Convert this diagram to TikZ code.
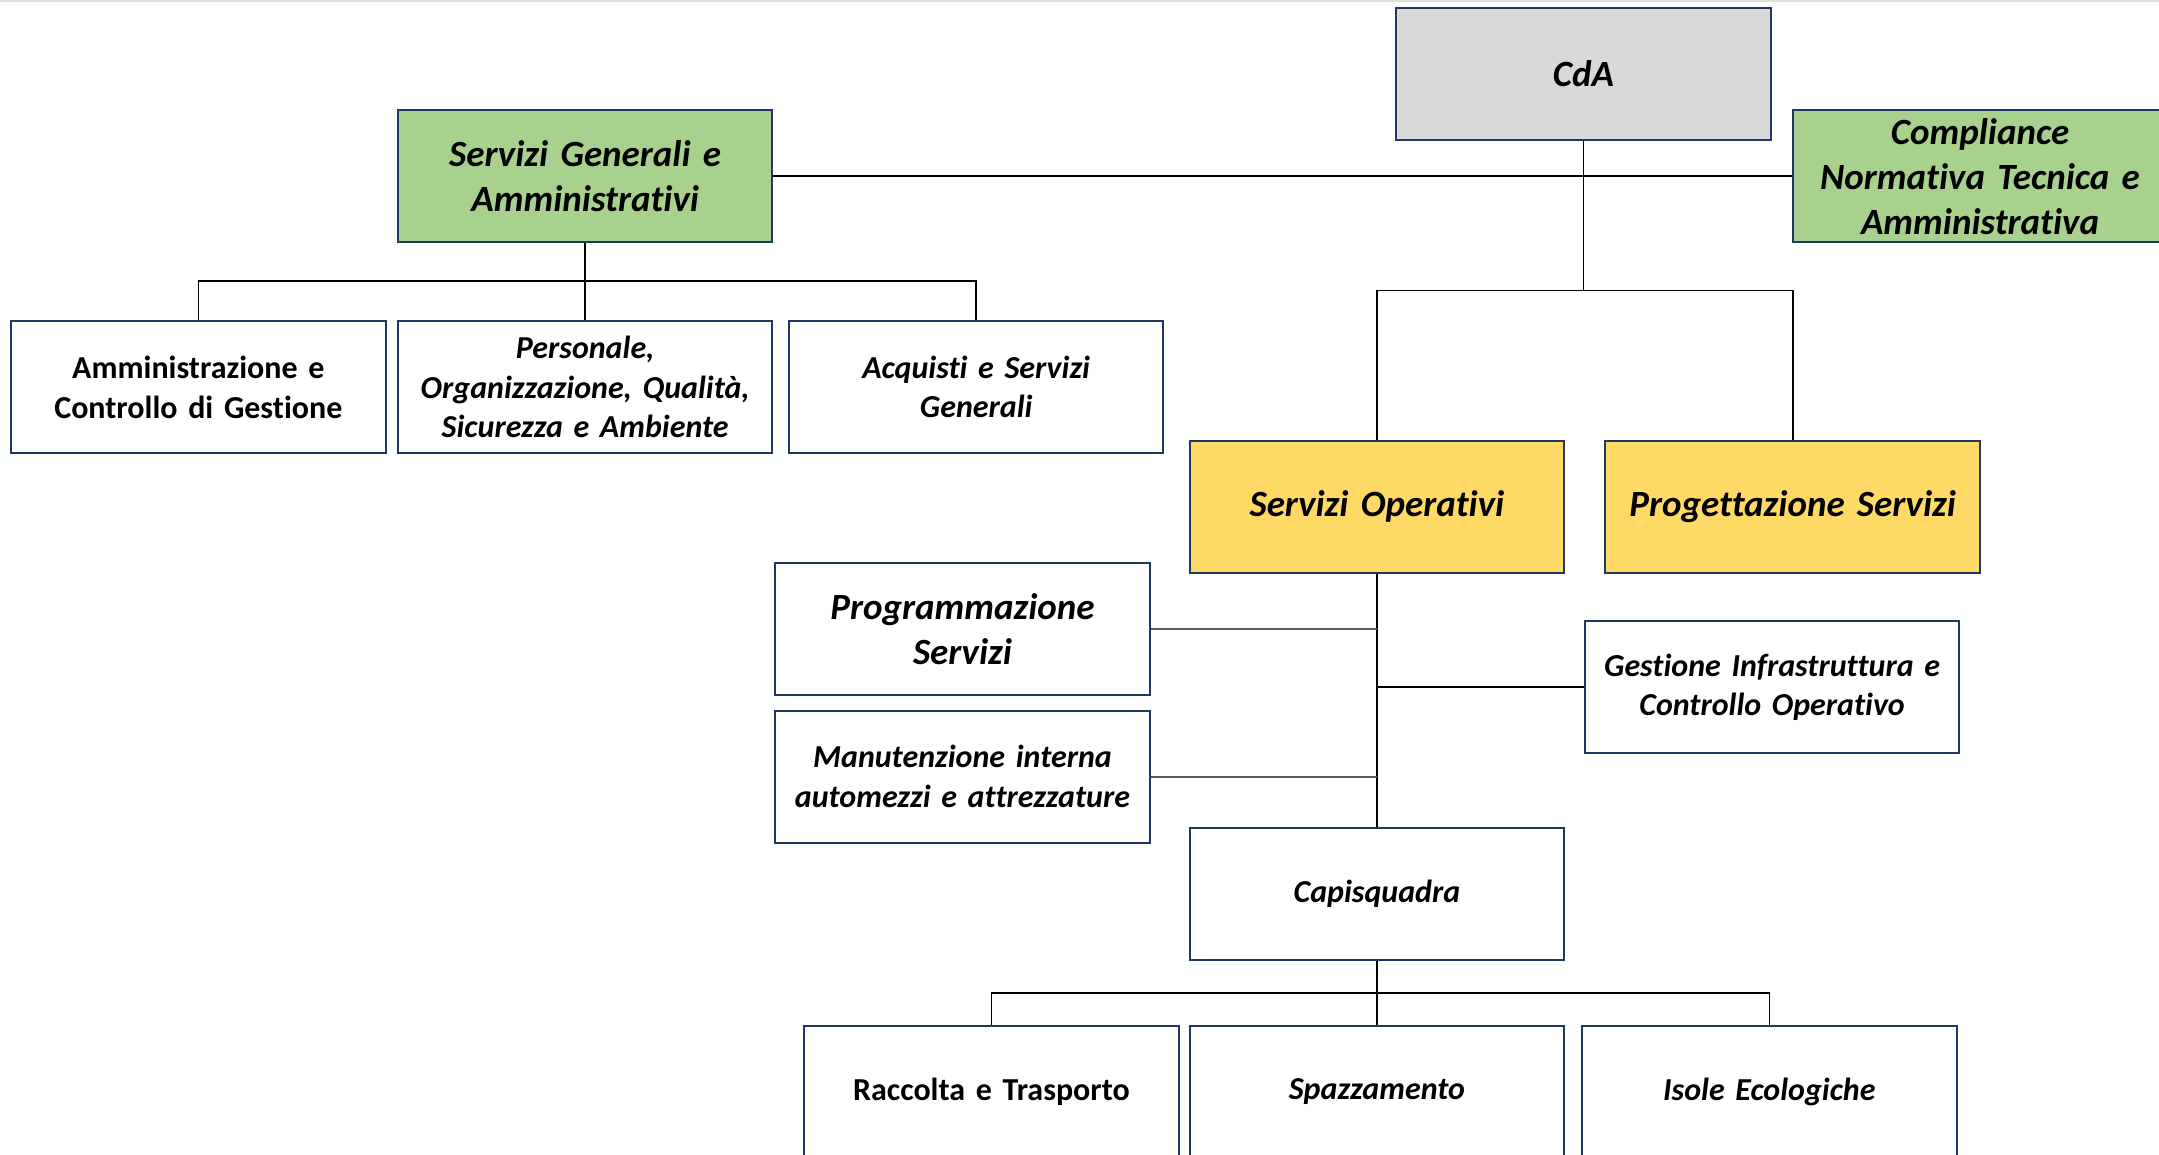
\documentclass[tikz,border=0pt]{standalone}
\usepackage{fontspec}
\setmainfont{Carlito}[Ligatures={NoCommon,NoRare,NoContextual}]
\definecolor{navy}{HTML}{1F3864}
\definecolor{greenfill}{HTML}{A9D18E}
\definecolor{yellowfill}{HTML}{FFD966}
\definecolor{grayfill}{HTML}{D9D9D9}
\begin{document}
\begin{tikzpicture}[x=1pt,y=-1pt,
  box/.style={draw=navy, fill=white, line width=2pt, minimum width=374.5pt, minimum height=132pt,
    align=center, inner sep=0pt, text width=360pt,
    font=\bfseries\itshape\fontsize{32}{39.5}\selectfont},
  big/.style={font=\bfseries\itshape\fontsize{37}{45}\selectfont},
  upr/.style={font=\bfseries\fontsize{32}{40}\selectfont},
  conn/.style={line width=1.6pt, black},
  gconn/.style={line width=2pt, black!65}]
\useasboundingbox (0,0) rectangle (2159,1154);
\clip (0,0) rectangle (2159,1154);
\fill[white] (0,0) rectangle (2159,1154);
\draw[black!12, line width=1.5pt] (0,1) -- (2159,1);

% nodes
\node[box, big, fill=grayfill] (cda) at (1583.4,74) {CdA};
\node[box, big, fill=greenfill] (sga) at (585.2,176.2) {Servizi Generali e\\Amministrativi};
\node[box, big, fill=greenfill] (comp) at (1980,176.2) {Compliance\\Normativa Tecnica e\\Amministrativa};
\node[box, upr] (amm) at (198.3,386.9) {Amministrazione e\\Controllo di Gestione};
\node[box] (pers) at (585.2,386.9) {Personale,\\Organizzazione, Qualità,\\Sicurezza e Ambiente};
\node[box] (acq) at (976.2,386.9) {Acquisti e Servizi\\Generali};
\node[box, big, fill=yellowfill] (so) at (1376.9,506.7) {Servizi Operativi};
\node[box, big, fill=yellowfill] (ps) at (1792.7,506.7) {Progettazione Servizi};
\node[box, big] (prog) at (962.5,629.2) {Programmazione\\Servizi};
\node[box] (man) at (962.5,776.6) {Manutenzione interna\\automezzi e attrezzature};
\node[box] (gest) at (1772.1,687.1) {Gestione Infrastruttura e\\Controllo Operativo};
\node[box] (cap) at (1376.9,893.6) {Capisquadra};
\node[box, upr] (racc) at (991.4,1091.9) {Raccolta e Trasporto};
\node[box] (spaz) at (1376.9,1091.9) {Spazzamento};
\node[box] (isole) at (1769.3,1091.9) {Isole Ecologiche};

% bus coordinates
\coordinate (bcda) at (1583.4,290.5);
\coordinate (bsga) at (585.2,280.9);
\coordinate (bcap) at (1376.9,992.7);

% connectors
\draw[conn] (sga.east) -- (comp.west);
\draw[conn] (cda.south) -- (bcda);
\draw[conn] (so.north) |- (bcda) -| (ps.north);
\draw[conn] (sga.south) -- (pers.north);
\draw[conn] (amm.north) |- (bsga) -| (acq.north);
\draw[conn] (so.south) -- (cap.north);
\draw[gconn] (prog.east) -- (prog.east -| so.south);
\draw[gconn] (man.east) -- (man.east -| so.south);
\draw[conn] (gest.west) -- (gest.west -| so.south);
\draw[conn] (cap.south) -- (spaz.north);
\draw[conn] (racc.north) |- (bcap) -| (isole.north);
\end{tikzpicture}
\end{document}
